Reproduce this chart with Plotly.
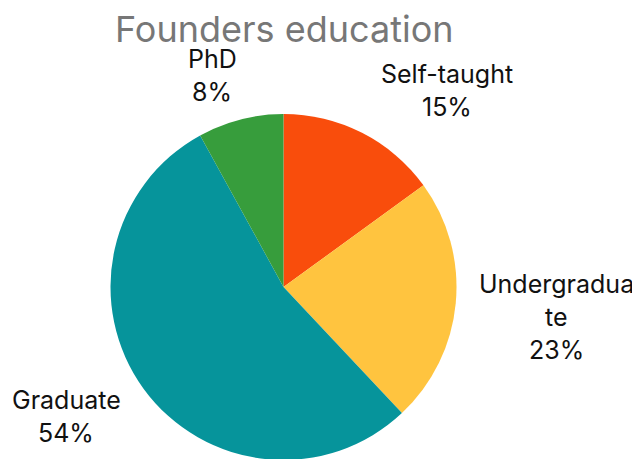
import plotly.graph_objects as go

# ---- data ----
categories = ["Self-taught", "Undergraduate", "Graduate", "PhD"]
values = [15, 23, 54, 8]
display_lines = [["Self-taught"], ["Undergradua", "te"], ["Graduate"], ["PhD"]]
colors = ["#F94D0C", "#FFC43F", "#06949B", "#379D3C"]

# ---- layout (pixels, as seen in the browser window) ----
W, H = 640, 459
OFF = 8  # default page body margin in the browser
cx, cy, R = 283.5, 287.0, 173.0
# label block: center x, first baseline y
label_pos = [(447, 83), (556, 293), (66, 409), (212, 68)]
LINE_GAP = 33.0
FONT = 25
TITLE_FONT = 36
FONT_FAMILY = "Inter, Roboto, Arial, sans-serif"


def px(x):
    return (x - OFF) / W


def py(y):
    return 1 - (y - OFF) / H


fig = go.Figure()
fig.add_trace(go.Pie(
    labels=categories,
    values=values,
    sort=False,
    direction="clockwise",
    rotation=0,
    marker=dict(colors=colors, line=dict(width=0)),
    textinfo="none",
    hoverinfo="label+percent",
    showlegend=False,
    domain=dict(x=[px(cx - R), px(cx + R)],
                y=[max(0.0, py(cy + R)), py(cy - R)]),
))

total = sum(values)
annotations = []
for (lx, ly), lines, v in zip(label_pos, display_lines, values):
    pct = f"{round(100 * v / total)}%"
    for i, t in enumerate(lines + [pct]):
        base = ly + i * LINE_GAP
        ymid = base - 0.36 * FONT
        annotations.append(dict(
            x=px(lx), y=py(ymid), xref="paper", yref="paper",
            text=t, showarrow=False, xanchor="center", yanchor="middle",
            font=dict(size=FONT, color="#111111", family=FONT_FAMILY),
        ))

# title
annotations.append(dict(
    x=px(cx), y=py(42 - 0.36 * TITLE_FONT), xref="paper", yref="paper",
    text="Founders education", showarrow=False, xanchor="center", yanchor="middle",
    font=dict(size=TITLE_FONT, color="#777777", family=FONT_FAMILY),
))

fig.update_layout(
    width=W, height=H,
    margin=dict(l=0, r=0, t=0, b=0),
    paper_bgcolor="white", plot_bgcolor="white",
    annotations=annotations,
)

fig.write_html("out.html")
